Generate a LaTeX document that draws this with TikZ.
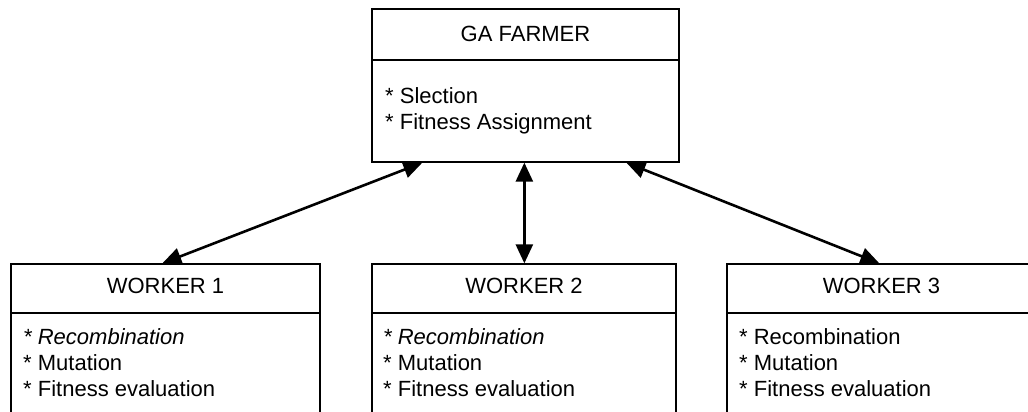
\documentclass[tikz,border=0pt]{standalone}
\usepackage{fontspec}
\setmainfont{Liberation Sans}
\usetikzlibrary{arrows.meta,calc}
\begin{document}
\begin{tikzpicture}[x=1pt,y=-1pt,
  box/.style={draw,line width=1.3pt,rectangle,inner sep=0pt},
  txt/.style={inner sep=0pt,font=\fontsize{22}{26}\selectfont},
  title/.style={txt,anchor=base},
  item/.style={txt,anchor=base west},
  link/.style={line width=2.6pt,{Triangle[length=19pt,width=17pt]}-{Triangle[length=19pt,width=17pt]}}]
\useasboundingbox (0,0) rectangle (1028,412);
\fill[white] (0,0) rectangle (1028,412);
\clip (0,0) rectangle (1028,412);
% farmer
\node[box,minimum width=307pt,minimum height=153pt] (farmer) at (525.5,85.5) {};
\draw[line width=1.3pt] (372,60) coordinate (fd1) -- (679,60) coordinate (fd2);
\node[title] (ftitle) at (525.5,42) {GA FARMER};
\node[item] (f1) at (385,103) {* Slection};
\node[item] (f2) at (385,129) {* Fitness Assignment};
% workers
\foreach \n/\cx/\w/\tx in {1/165.5/309/23, 2/524/304/383, 3/881.5/309/739}{
  \node[box,minimum width=\w pt,minimum height=180pt] (w\n) at (\cx,354) {};
  \draw[line width=1.3pt] (w\n.west |- 0,313) -- (w\n.east |- 0,313);
  \node[title] (w\n t) at (\cx,293) {WORKER \n};
  \node[item] (w\n a) at (\tx,344) {\ifnum\n<3 \itshape\fi * Recombination};
  \node[item] (w\n b) at (\tx,370) {* Mutation};
  \node[item] (w\n c) at (\tx,396) {* Fitness evaluation};
}
% connectors
\draw[link] ($(farmer.south west)+(51,0)$) -- ($(w1.north west)+(152,0)$);
\draw[link] ($(farmer.south west)+(153,0)$) -- ($(w2.north west)+(153,0)$);
\draw[link] ($(farmer.south west)+(255,0)$) -- ($(w3.north west)+(153,0)$);
\end{tikzpicture}
\end{document}
